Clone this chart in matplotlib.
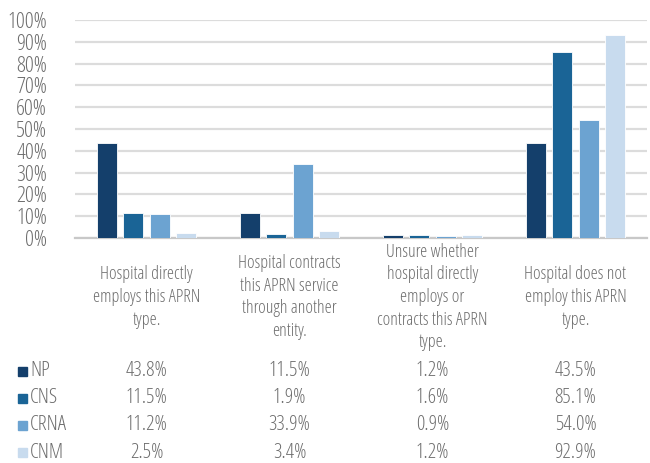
import matplotlib
matplotlib.use("Agg")
import matplotlib.pyplot as plt
import matplotlib.transforms as mtransforms
import numpy as np

plt.rcParams['font.family'] = ['Open Sans', 'DejaVu Sans']
plt.rcParams['font.stretch'] = 'condensed'

# Datos
categories = [
    "Hospital directly\nemploys this APRN\ntype.",
    "Hospital contracts\nthis APRN service\nthrough another\nentity.",
    "Unsure whether\nhospital directly\nemploys or\ncontracts this APRN\ntype.",
    "Hospital does not\nemploy this APRN\ntype.",
]
series = ["NP", "CNS", "CRNA", "CNM"]
np_vals = [43.8, 11.5, 1.2, 43.5]
cns_vals = [11.5, 1.9, 1.6, 85.1]
crna_vals = [11.2, 33.9, 0.9, 54.0]
cnm_vals = [2.5, 3.4, 1.2, 92.9]
colors = ["#143f6b", "#1a6496", "#6ca3d1", "#c8dbee"]

values = [np_vals, cns_vals, crna_vals, cnm_vals]
text_gray = "#6e6e6e"

W, H = 650, 463
fig = plt.figure(figsize=(6.5, 4.63), dpi=100)
ax = fig.add_axes([75 / W, 1 - 238 / H, 572 / W, 218 / H])

x = np.arange(len(categories))
step = 0.182
bw = 0.14
for i, (name, vals) in enumerate(zip(series, values)):
    ax.bar(x + (i - 1.5) * step, vals, width=bw, color=colors[i],
           edgecolor='white', linewidth=0.6, zorder=3)

ax.set_xlim(-0.5, len(categories) - 0.5)
ax.set_ylim(0, 100)
ax.set_yticks(np.arange(0, 101, 10))
ax.set_yticklabels([f"{v}%" for v in range(0, 101, 10)])
ax.tick_params(axis='y', length=0, pad=20, labelsize=16, labelcolor=text_gray)
ax.tick_params(axis='x', length=0, labelbottom=False)
ax.grid(axis='y', color='#dcdcdc', linewidth=1.6, zorder=0)
for s in ['top', 'right', 'left']:
    ax.spines[s].set_visible(False)
ax.spines['bottom'].set_color('#c8c8c8')
ax.spines['bottom'].set_linewidth(1.6)

# Etiquetas de categoría y tabla de datos
trans = mtransforms.blended_transform_factory(ax.transData, fig.transFigure)
for j, cat in enumerate(categories):
    ax.text(x[j], 1 - 297 / H, cat, transform=trans, ha='center', va='center',
            fontsize=13, color=text_gray, linespacing=1.33)

row_y = [371, 398, 425.5, 452.5]
for i, name in enumerate(series):
    yy = 1 - row_y[i] / H
    fig.patches.append(plt.Rectangle((18 / W, yy - 4.5 / H), 9 / W, 9 / H,
                                     transform=fig.transFigure, color=colors[i]))
    fig.text(30 / W, yy, name, ha='left', va='center', fontsize=15, color=text_gray)
    for j in range(len(categories)):
        ax.text(x[j], yy, f"{values[i][j]:.1f}%", transform=trans, ha='center',
                va='center', fontsize=15, color=text_gray)

fig.savefig("out.png", dpi=100)
